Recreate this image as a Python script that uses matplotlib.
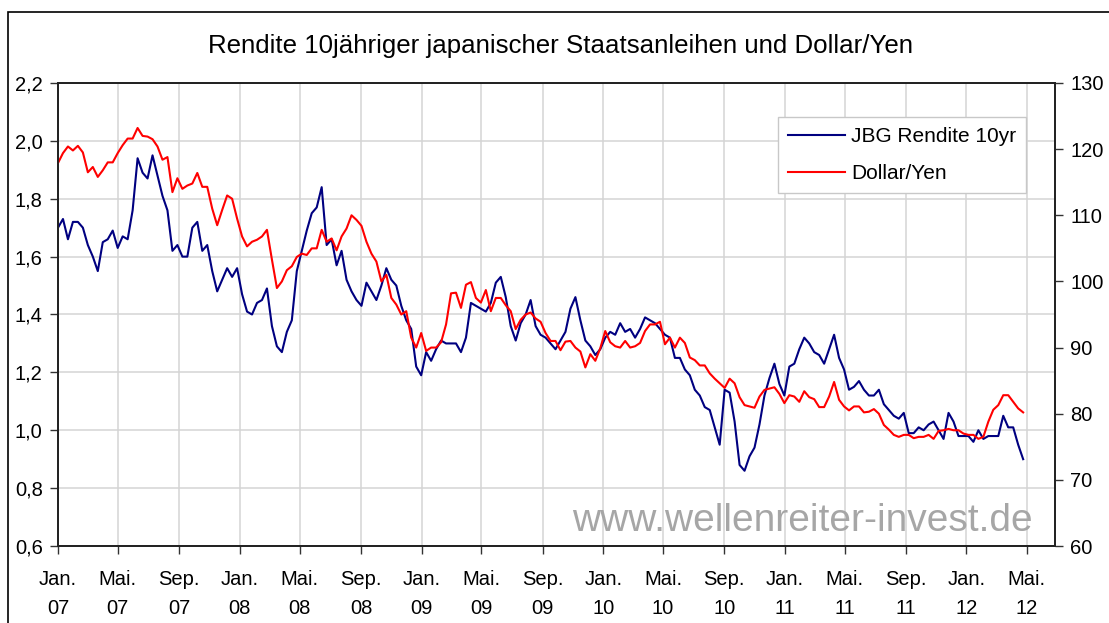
import matplotlib
matplotlib.use("Agg")
import matplotlib.pyplot as plt
import pandas as pd
from matplotlib.ticker import MultipleLocator, FuncFormatter
from matplotlib.patches import Rectangle

plt.rcParams["font.family"] = ["Liberation Sans", "DejaVu Sans"]

# data, one reading every 10 days starting 2007-01-01
START = "2007-01-01"
STEP = "10D"

jgb_yield = [
    1.70, 1.73, 1.66, 1.72, 1.72, 1.70, 1.64, 1.60, 1.55, 1.65,
    1.66, 1.69, 1.63, 1.67, 1.66, 1.76, 1.94, 1.89, 1.87, 1.95,
    1.88, 1.81, 1.76, 1.62, 1.64, 1.60, 1.60, 1.70, 1.72, 1.62,
    1.64, 1.55, 1.48, 1.52, 1.56, 1.53, 1.56, 1.47, 1.41, 1.40,
    1.44, 1.45, 1.49, 1.36, 1.29, 1.27, 1.34, 1.38, 1.55, 1.62,
    1.69, 1.75, 1.77, 1.84, 1.64, 1.66, 1.57, 1.62, 1.52, 1.48,
    1.45, 1.43, 1.51, 1.48, 1.45, 1.50, 1.56, 1.52, 1.50, 1.43,
    1.38, 1.35, 1.22, 1.19, 1.27, 1.24, 1.28, 1.31, 1.30, 1.30,
    1.30, 1.27, 1.32, 1.44, 1.43, 1.42, 1.41, 1.44, 1.51, 1.53,
    1.46, 1.36, 1.31, 1.37, 1.40, 1.45, 1.36, 1.33, 1.32, 1.30,
    1.28, 1.31, 1.34, 1.42, 1.46, 1.38, 1.31, 1.29, 1.26, 1.28,
    1.32, 1.34, 1.33, 1.37, 1.34, 1.35, 1.32, 1.35, 1.39, 1.38,
    1.37, 1.35, 1.33, 1.32, 1.25, 1.25, 1.21, 1.19, 1.14, 1.12,
    1.08, 1.07, 1.01, 0.95, 1.14, 1.13, 1.03, 0.88, 0.86, 0.91,
    0.94, 1.02, 1.12, 1.18, 1.23, 1.16, 1.12, 1.22, 1.23, 1.28,
    1.32, 1.30, 1.27, 1.26, 1.23, 1.28, 1.33, 1.25, 1.21, 1.14,
    1.15, 1.17, 1.14, 1.12, 1.12, 1.14, 1.09, 1.07, 1.05, 1.04,
    1.06, 0.99, 0.99, 1.01, 1.00, 1.02, 1.03, 1.00, 0.97, 1.06,
    1.03, 0.98, 0.98, 0.98, 0.96, 1.00, 0.97, 0.98, 0.98, 0.98,
    1.05, 1.01, 1.01, 0.95, 0.90,
]

usd_jpy = [
    117.9, 119.4, 120.4, 119.8, 120.5, 119.5, 116.5, 117.3, 115.8, 116.8,
    118.0, 118.0, 119.4, 120.6, 121.6, 121.6, 123.2, 122.0, 121.9, 121.5,
    120.4, 118.4, 118.8, 113.5, 115.6, 114.0, 114.5, 114.8, 116.4, 114.3,
    114.3, 111.0, 108.5, 110.8, 113.0, 112.5, 109.5, 106.8, 105.3, 106.0,
    106.3, 106.8, 107.8, 103.3, 99.0, 100.0, 101.7, 102.3, 103.7, 104.2,
    104.0, 105.0, 105.0, 107.8, 106.0, 106.5, 104.7, 106.8, 108.0, 110.0,
    109.3, 108.4, 106.0, 104.2, 103.0, 100.0, 101.0, 97.5, 96.5, 95.0,
    95.5, 91.5, 90.0, 92.2, 89.5, 90.0, 90.0, 90.8, 93.5, 98.2,
    98.3, 96.0, 99.5, 99.9, 97.5, 96.8, 98.7, 95.5, 97.5, 97.5,
    96.4, 95.5, 92.8, 94.2, 95.0, 95.3, 94.4, 93.9, 92.2, 91.0,
    91.0, 89.6, 90.9, 91.0, 90.0, 89.4, 87.0, 89.0, 88.0, 89.9,
    92.5, 90.8, 90.2, 90.0, 91.0, 90.0, 90.2, 90.7, 92.5, 93.5,
    93.5, 93.9, 90.5, 91.5, 90.0, 91.5, 90.7, 88.5, 88.1, 87.3,
    87.3, 86.1, 85.3, 84.6, 83.9, 85.3, 84.6, 82.5, 81.3, 81.1,
    80.9, 82.6, 83.6, 83.8, 84.0, 83.0, 81.6, 82.8, 82.6, 81.8,
    83.4, 82.5, 82.2, 81.0, 81.0, 82.6, 84.8, 82.1, 81.1, 80.5,
    81.1, 81.1, 80.2, 80.3, 80.7, 80.0, 78.3, 77.6, 76.8, 76.5,
    76.8, 76.8, 76.3, 76.5, 76.5, 76.8, 76.2, 77.4, 77.5, 77.7,
    77.5, 77.5, 77.0, 76.8, 76.8, 76.2, 76.5, 78.8, 80.6, 81.3,
    82.8, 82.8, 81.8, 80.8, 80.2,
]

MONTHS_DE = {1: "Jan", 5: "Mai", 9: "Sep"}
X_START, X_END = "2007-01-01", "2012-06-27"
TITLE = "Rendite 10jähriger japanischer Staatsanleihen und Dollar/Yen"

jgb_dates = pd.date_range(START, periods=len(jgb_yield), freq=STEP)
jpy_dates = pd.date_range(START, periods=len(usd_jpy), freq=STEP)
tick_dates = pd.date_range("2007-01-01", "2012-05-01", freq="4MS")
tick_labels = [f"{MONTHS_DE[d.month]}.\n{d.strftime('%y')}" for d in tick_dates]

fig = plt.figure(figsize=(11.09, 6.23), dpi=100)
# outer chart frame (only left/top edge visible in the original)
fig.patches.append(Rectangle((8 / 1109, -0.1), 1.2, 1 - 12 / 623 + 0.1,
                             transform=fig.transFigure, fill=False,
                             edgecolor="black", linewidth=1.2))

ax = fig.add_axes([58 / 1109, 1 - 546 / 623, 997 / 1109, 463 / 623])
ax2 = ax.twinx()

line1, = ax.plot(jgb_dates, jgb_yield, color="#000080", linewidth=1.5)
line2, = ax2.plot(jpy_dates, usd_jpy, color="#ff0000", linewidth=1.5)

ax.set_xlim(pd.Timestamp(X_START), pd.Timestamp(X_END))
ax.set_ylim(0.6, 2.2)
ax2.set_ylim(60, 130)
ax.yaxis.set_major_locator(MultipleLocator(0.2))
ax.yaxis.set_major_formatter(FuncFormatter(lambda v, p: f"{v:.1f}".replace(".", ",")))
ax2.yaxis.set_major_locator(MultipleLocator(10))

ax.set_xticks(tick_dates)
ax.set_xticklabels(tick_labels, linespacing=1.7)

ax.grid(True, color="#d4d4d4", linewidth=1.1)
ax.set_axisbelow(True)

for a in (ax, ax2):
    for s in a.spines.values():
        s.set_color("#222222")
        s.set_linewidth(1.3)
    a.tick_params(labelsize=14.5, length=6, width=1.0, color="#333333",
                  direction="out", pad=5)
ax.tick_params(axis="x", pad=11)

fig.text(0.505, 1 - 46 / 623, TITLE, ha="center", va="center", fontsize=18.6)

ax.text(0.978, 0.055, "www.wellenreiter-invest.de", transform=ax.transAxes,
        ha="right", va="center", fontsize=28, color="#a6a6a6")

leg = ax2.legend([line1, line2], ["JBG Rendite 10yr", "Dollar/Yen"],
                 loc="upper left", bbox_to_anchor=(0.722, 0.927),
                 borderaxespad=0, fontsize=15, handlelength=2.7,
                 handletextpad=0.3, labelspacing=0.85, borderpad=0.5,
                 fancybox=False, framealpha=1)
leg.get_frame().set_edgecolor("#c8c8c8")

fig.savefig("out.png", dpi=100)
